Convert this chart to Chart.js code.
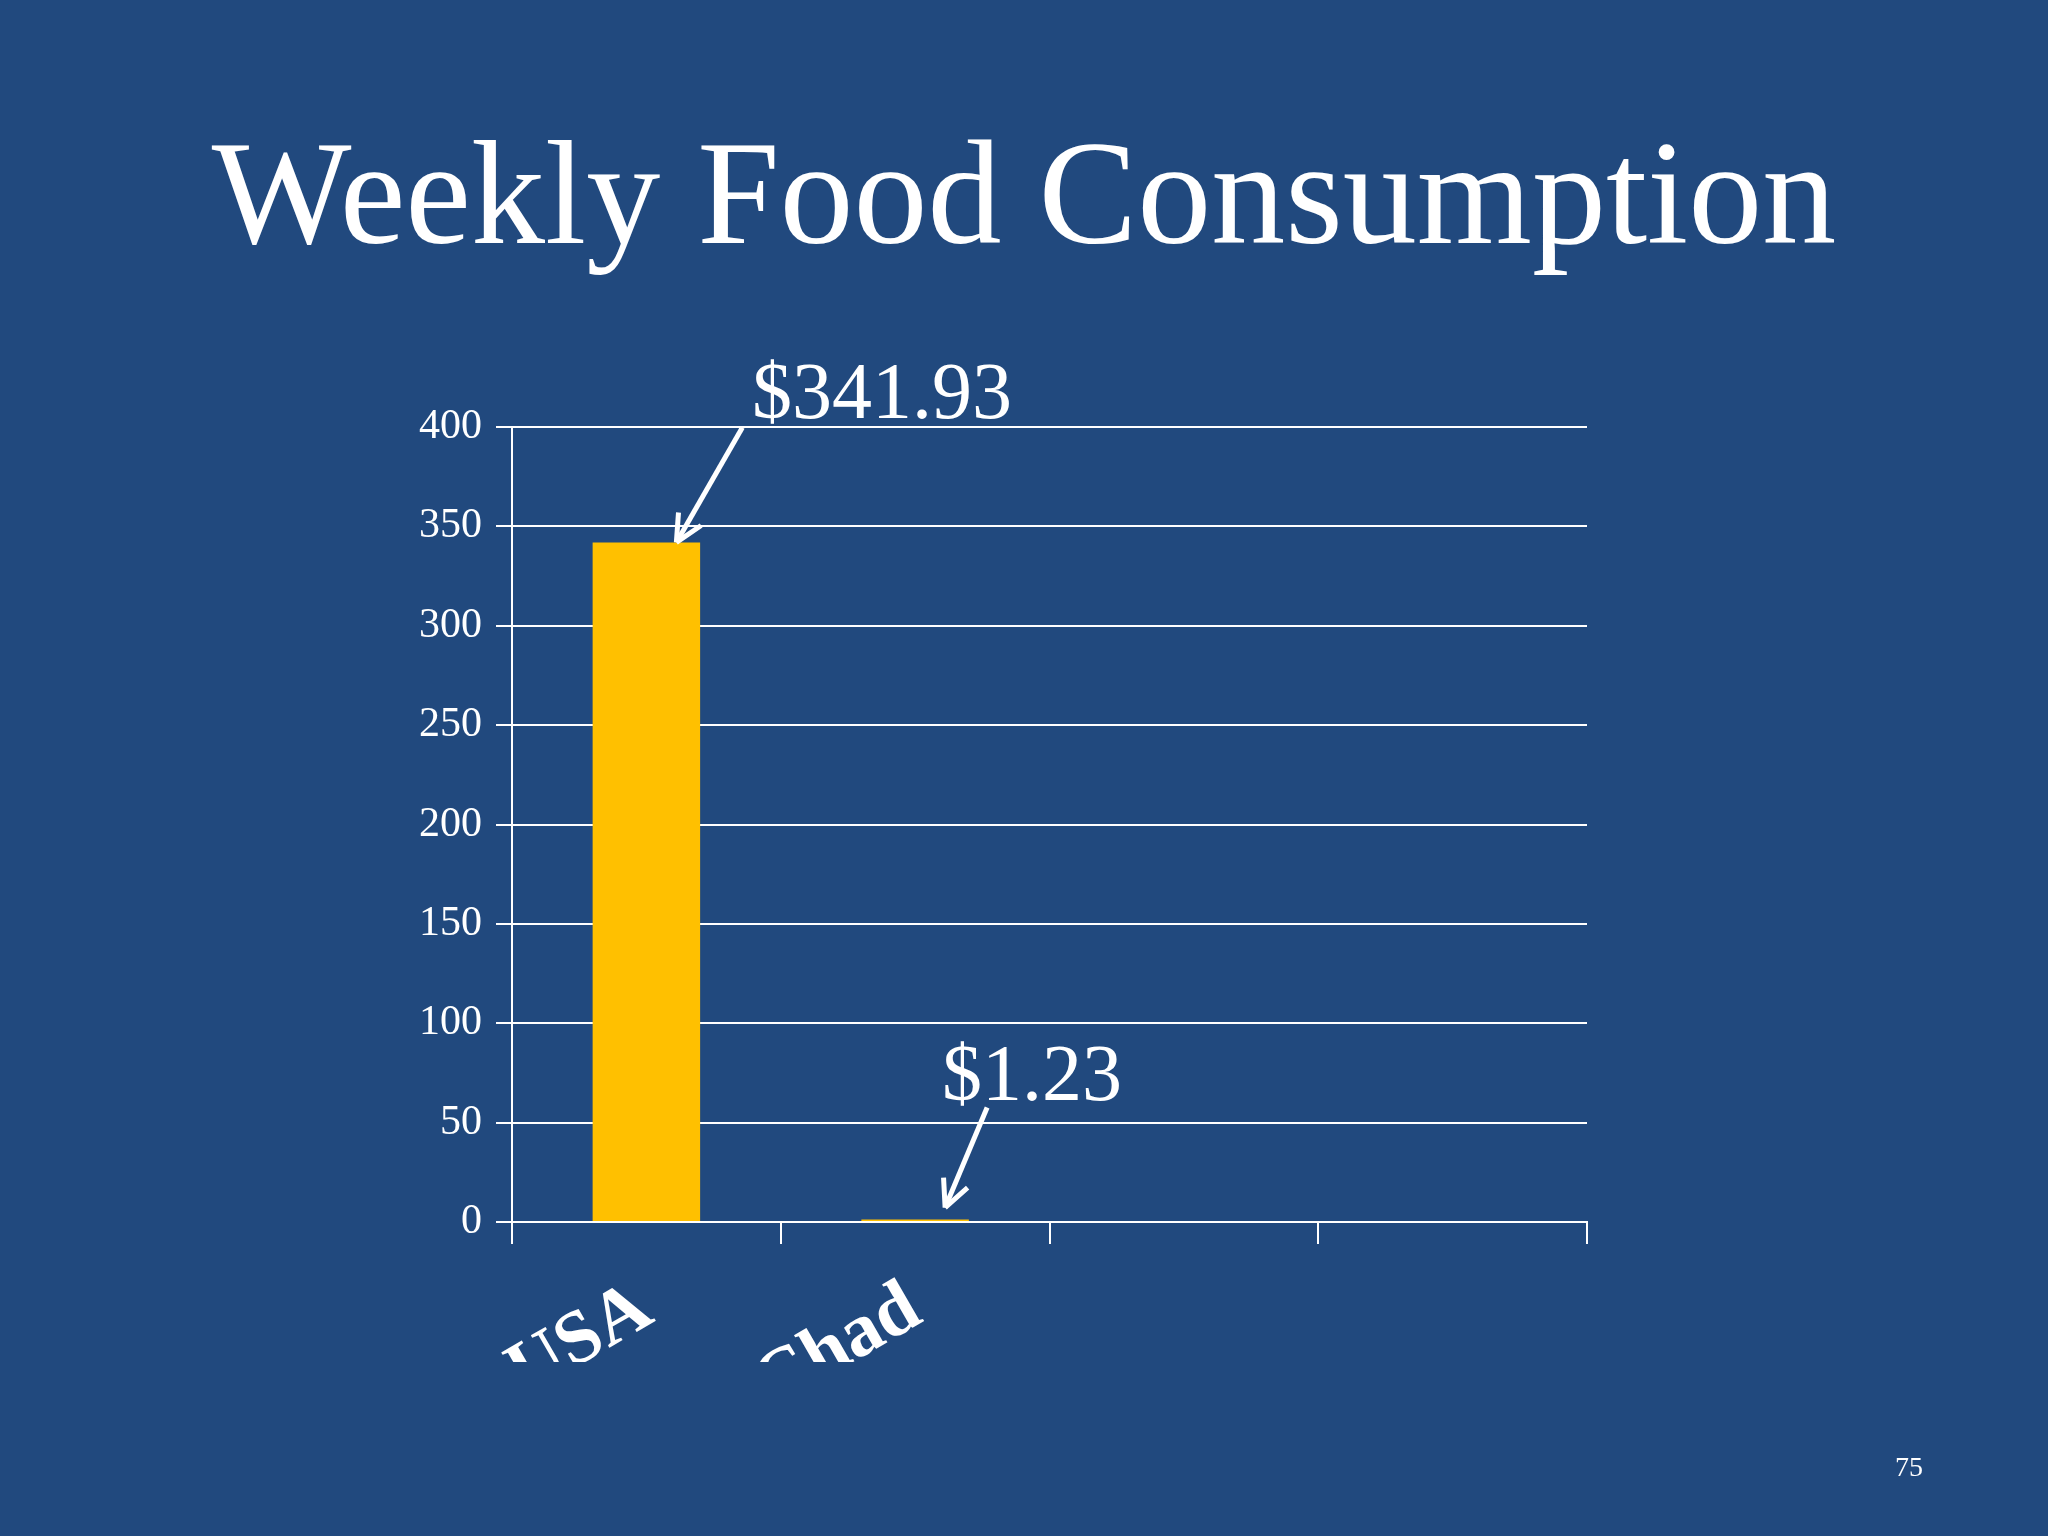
<!DOCTYPE html>
<html>
<head>
<meta charset="utf-8">
<script src="https://cdn.jsdelivr.net/npm/chart.js@4"></script>
<style>
  html, body { margin: 0; padding: 0; background: #21497e; }
  canvas { display: block; }
</style>
</head>
<body>
<canvas id="chart" width="2048" height="1536"></canvas>
<script>
const countries = ['USA', 'Chad', '', '']
const spending = [341.93, 1.23, null, null]
const valueLabels = ['$341.93', '$1.23']
const yTicks = [0, 50, 100, 150, 200, 250, 300, 350, 400]

const serif = '"Liberation Serif", "DejaVu Serif", serif'

// title, page number, value callouts with arrows
const slideDecor = {
    id: 'slideDecor',
    afterDraw(chart) {
        const ctx = chart.ctx
        const x = chart.scales.x
        const y = chart.scales.y
        ctx.save()
        ctx.fillStyle = '#ffffff'
        ctx.textAlign = 'center'
        ctx.textBaseline = 'alphabetic'
        ctx.font = '148px ' + serif
        ctx.fillText('Weekly Food Consumption', 1024, 243)
        ctx.font = '28px ' + serif
        ctx.fillText('75', 1909, 1476)

        const callouts = [
            { i: 0, dx: 110, dy: -115, tx: 752, ty: 418 },
            { i: 1, dx: 70, dy: -100, tx: 942, ty: 1100 }
        ]
        ctx.strokeStyle = '#ffffff'
        ctx.lineWidth = 5
        callouts.forEach(c => {
            const bx = x.getPixelForValue(c.i) + 30
            const by = y.getPixelForValue(spending[c.i]) - (c.i === 1 ? 12 : 0)
            const sx = bx + c.dx * 0.6
            const sy = by + c.dy
            ctx.beginPath()
            ctx.moveTo(sx, sy)
            ctx.lineTo(bx, by)
            ctx.stroke()
            const ang = Math.atan2(by - sy, bx - sx)
            ctx.beginPath()
            ctx.moveTo(bx, by)
            ctx.lineTo(bx - 30 * Math.cos(ang - 0.45), by - 30 * Math.sin(ang - 0.45))
            ctx.moveTo(bx, by)
            ctx.lineTo(bx - 30 * Math.cos(ang + 0.45), by - 30 * Math.sin(ang + 0.45))
            ctx.stroke()
            ctx.textAlign = 'left'
            ctx.font = '80px ' + serif
            ctx.fillText(valueLabels[c.i], c.tx, c.ty)
        })
        ctx.restore()
    }
}

new Chart(document.getElementById('chart').getContext('2d'), {
    type: 'bar',
    data: {
        labels: countries,
        datasets: [{
            data: spending,
            backgroundColor: '#ffc000',
            categoryPercentage: 0.8,
            barPercentage: 0.5
        }]
    },
    options: {
        responsive: false,
        devicePixelRatio: 1,
        animation: false,
        layout: { padding: { left: 402, right: 461, top: 427, bottom: 174 } },
        plugins: { legend: { display: false }, tooltip: { enabled: false } },
        scales: {
            x: {
                afterFit: s => { s.height = 140 },
                grid: { display: true, drawOnChartArea: false, offset: true, color: '#ffffff', tickLength: 22, lineWidth: 2 },
                border: { color: '#ffffff', width: 2 },
                ticks: {
                    color: '#ffffff', minRotation: 30, maxRotation: 30, padding: 20,
                    font: { family: serif, size: 76, weight: 'bold' }
                }
            },
            y: {
                min: 0, max: 400,
                afterFit: s => { s.width = 110 },
                afterBuildTicks: s => { s.ticks = yTicks.map(v => ({ value: v })) },
                grid: { color: '#ffffff', lineWidth: 2, tickLength: 16 },
                border: { color: '#ffffff', width: 2 },
                ticks: { color: '#ffffff', padding: 14, font: { family: serif, size: 42 } }
            }
        }
    },
    plugins: [slideDecor]
})
</script>
</body>
</html>
